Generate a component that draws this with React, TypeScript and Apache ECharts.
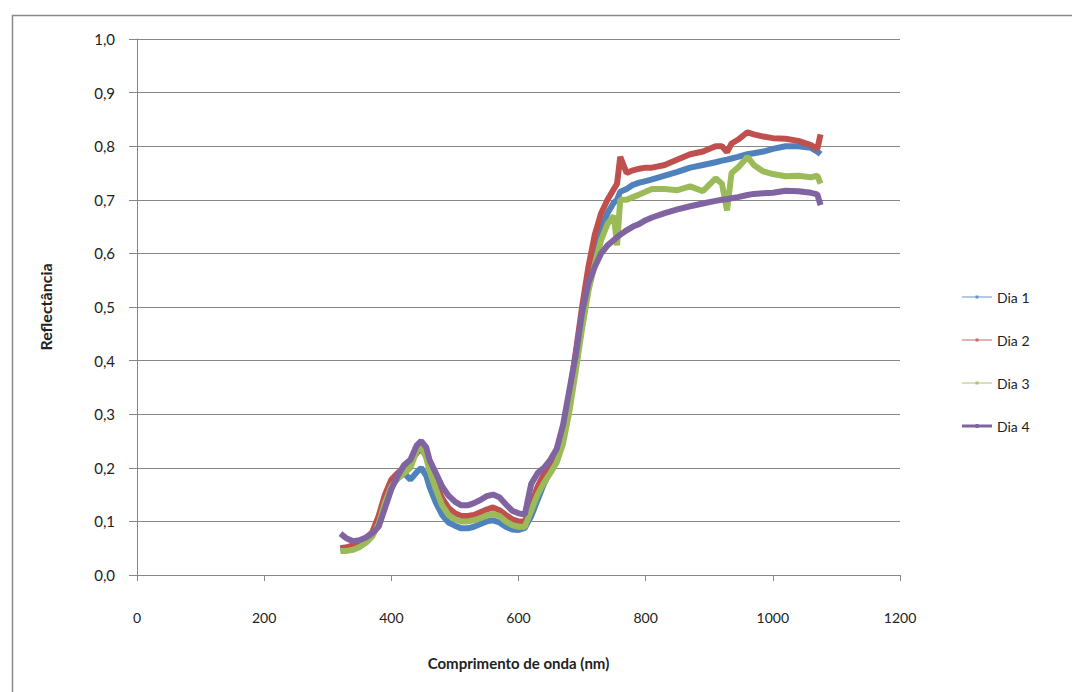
import React, { useEffect, useRef } from "react";
import * as echarts from "echarts";

const wavelengths = [
  320, 330, 340, 350, 360, 370, 380, 390, 400, 410, 420, 430, 440, 447, 455,
  460, 470, 480, 490, 500, 510, 520, 530, 540, 550, 560, 570, 580, 590, 600,
  610, 620, 630, 640, 650, 660, 670, 680, 690, 700, 710, 720, 730, 740, 750,
  755, 760, 770, 780, 790, 800, 810, 830, 850, 870, 890, 910, 920, 928, 935,
  945, 960, 970, 985, 1000, 1020, 1040, 1060, 1070, 1075,
];

const dia1 = [
  0.05, 0.05, 0.05, 0.055, 0.063, 0.075, 0.1, 0.14, 0.168, 0.18, 0.19, 0.178, 0.192, 0.2, 0.185,
  0.165, 0.135, 0.112, 0.098, 0.092, 0.087, 0.087, 0.09, 0.095, 0.1, 0.102, 0.098, 0.09, 0.085, 0.084,
  0.088, 0.11, 0.14, 0.17, 0.195, 0.215, 0.255, 0.32, 0.4, 0.47, 0.54, 0.6, 0.645, 0.675, 0.695,
  0.7, 0.715, 0.72, 0.728, 0.732, 0.735, 0.738, 0.745, 0.752, 0.76, 0.765, 0.77, 0.773, 0.775, 0.777,
  0.78, 0.785, 0.787, 0.79, 0.795, 0.8, 0.8, 0.797, 0.79, 0.785,
];

const dia2 = [
  0.05, 0.052, 0.055, 0.06, 0.068, 0.08, 0.11, 0.15, 0.178, 0.19, 0.2, 0.21, 0.228, 0.235, 0.222,
  0.2, 0.17, 0.143, 0.125, 0.115, 0.11, 0.11, 0.112, 0.117, 0.122, 0.126, 0.121, 0.112, 0.104, 0.1,
  0.1, 0.13, 0.165, 0.188, 0.205, 0.225, 0.27, 0.335, 0.415, 0.5, 0.575, 0.635, 0.675, 0.7, 0.72,
  0.73, 0.78, 0.75, 0.755, 0.758, 0.76, 0.76, 0.765, 0.775, 0.785, 0.79, 0.8, 0.8, 0.789, 0.805,
  0.812, 0.826, 0.822, 0.818, 0.815, 0.814, 0.81, 0.802, 0.795, 0.822,
];

const dia3 = [
  0.045, 0.045, 0.047, 0.052, 0.06, 0.072, 0.095, 0.135, 0.165, 0.18, 0.19, 0.2, 0.232, 0.24, 0.218,
  0.195, 0.16, 0.13, 0.112, 0.104, 0.1, 0.1, 0.102, 0.106, 0.111, 0.114, 0.11, 0.1, 0.093, 0.09,
  0.09, 0.12, 0.15, 0.172, 0.19, 0.21, 0.245, 0.305, 0.38, 0.46, 0.53, 0.58, 0.625, 0.655, 0.67,
  0.615, 0.7, 0.7, 0.705, 0.71, 0.715, 0.72, 0.72, 0.718, 0.725, 0.716, 0.74, 0.73, 0.68, 0.75,
  0.76, 0.78, 0.765, 0.753, 0.748, 0.744, 0.745, 0.742, 0.745, 0.73,
];

const dia4 = [
  0.077, 0.068, 0.063, 0.065, 0.07, 0.078, 0.09, 0.125, 0.16, 0.185, 0.205, 0.215, 0.242, 0.25, 0.238,
  0.215, 0.19, 0.165, 0.148, 0.137, 0.13, 0.13, 0.134, 0.14, 0.147, 0.15, 0.145, 0.132, 0.12, 0.115,
  0.113, 0.17, 0.19, 0.2, 0.215, 0.235, 0.28, 0.345, 0.41, 0.49, 0.545, 0.575, 0.6, 0.615, 0.625,
  0.63, 0.635, 0.643, 0.65, 0.655, 0.662, 0.667, 0.675, 0.682, 0.688, 0.693, 0.698, 0.7, 0.701, 0.703,
  0.705, 0.709, 0.711, 0.712, 0.713, 0.717, 0.716, 0.713, 0.71, 0.69,
];

const seriesNames = ["Dia 1", "Dia 2", "Dia 3", "Dia 4"];
const seriesValues = [dia1, dia2, dia3, dia4];
const seriesColors = ["#4F81BD", "#C0504D", "#9BBB59", "#8064A2"];

const FONT = "Lato, 'Open Sans', sans-serif";

// legend icon: thin line with a small dot in the middle (box 30 x 14)
const thinIcon =
  "path://M0,0L0,0Z M30,14L30,14Z M0,6.5L30,6.5L30,7.5L0,7.5Z M13.5,5.5L16.5,5.5L16.5,8.5L13.5,8.5Z";
const thickIcon =
  "path://M0,0L0,0Z M30,14L30,14Z M0,5.5L30,5.5L30,8.5L0,8.5Z M13.5,5L16.5,5L16.5,9L13.5,9Z";

export default function App() {
  const ref = useRef<HTMLDivElement>(null);

  useEffect(() => {
    if (!ref.current) return;
    const chart = echarts.init(ref.current, undefined, { renderer: "svg" });
    const series = seriesNames.map((name, i) => ({
      name,
      type: "line",
      data: wavelengths.map((w, j) => [w, seriesValues[i][j]]),
      symbol: "circle",
      symbolSize: 4,
      showSymbol: false,
      lineStyle: { color: seriesColors[i], width: 6 },
      itemStyle: { color: seriesColors[i] },
      z: 2 + i,
    }));
    chart.setOption({
      animation: false,
      backgroundColor: "#ffffff",
      textStyle: { fontFamily: FONT },
      grid: { left: 137, right: 172, top: 39, bottom: 117, containLabel: false },
      legend: {
        orient: "vertical",
        left: 957,
        top: 285,
        itemWidth: 30,
        itemHeight: 14,
        itemGap: 29,
        symbolKeepAspect: false,
        textStyle: { fontFamily: FONT, fontSize: 14, color: "#222" },
        data: seriesNames.map((n, i) => ({
          name: n,
          icon: i === 3 ? thickIcon : thinIcon,
          itemStyle: { color: seriesColors[i], opacity: i === 3 ? 1 : 0.85 },
        })),
      },
      xAxis: {
        type: "value",
        min: 0,
        max: 1200,
        interval: 200,
        name: "Comprimento de onda (nm)",
        nameLocation: "middle",
        nameGap: 80,
        nameTextStyle: { fontFamily: FONT, fontSize: 15, fontWeight: "bold", color: "#222" },
        axisLine: { show: true, lineStyle: { color: "#868686", width: 1 } },
        axisTick: { show: true, length: 6, lineStyle: { color: "#868686" } },
        axisLabel: {
          margin: 35,
          fontFamily: FONT,
          fontSize: 14,
          color: "#222",
          formatter: (v: number) => String(v),
        },
        splitLine: { show: false },
      },
      yAxis: {
        type: "value",
        min: 0,
        max: 1,
        interval: 0.1,
        name: "Reflectância",
        nameLocation: "middle",
        nameGap: 84,
        nameRotate: 90,
        nameTextStyle: { fontFamily: FONT, fontSize: 16, fontWeight: "bold", color: "#222" },
        axisLine: { show: true, lineStyle: { color: "#868686", width: 1 } },
        axisTick: { show: true, length: 8, lineStyle: { color: "#868686" } },
        axisLabel: {
          margin: 22,
          fontFamily: FONT,
          fontSize: 15,
          color: "#222",
          formatter: (v: number) => v.toFixed(1).replace(".", ","),
        },
        splitLine: { show: true, lineStyle: { color: "#868686", width: 1 } },
      },
      graphic: [
        {
          type: "rect",
          left: 10,
          top: 13,
          shape: { x: 0, y: 0, width: 1100, height: 720 },
          style: { fill: "none", stroke: "#8a8a8a", lineWidth: 1.5 },
          silent: true,
        },
      ],
      series,
    });
    return () => chart.dispose();
  }, []);

  return (
    <div
      ref={ref}
      style={{ position: "fixed", left: 0, top: 0, width: 1072, height: 692, background: "#fff" }}
    />
  );
}
